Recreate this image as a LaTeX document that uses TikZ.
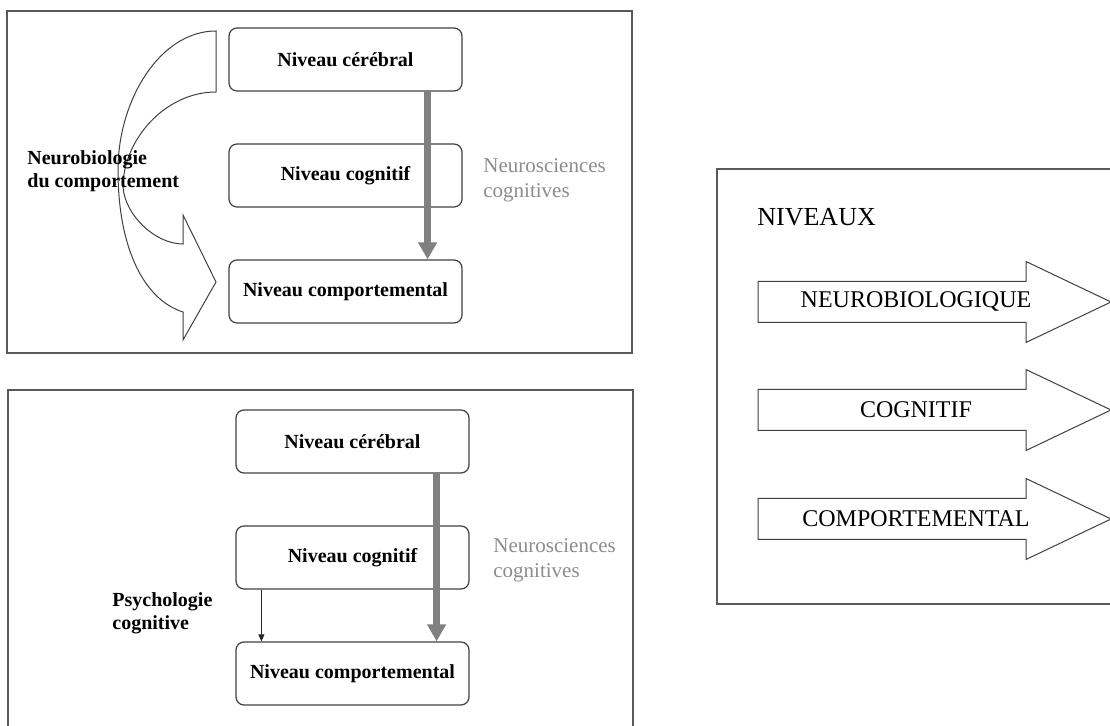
\documentclass[tikz,border=0pt]{standalone}
\usepackage{fontspec}
\setmainfont{Liberation Serif}
\usetikzlibrary{arrows.meta}

\begin{document}
\begin{tikzpicture}[
  x=0.5pt, y=-0.5pt,
  every node/.style={font=\bfseries\fontsize{10}{11.5}\selectfont, align=left},
  level/.style={rectangle, draw=black!75, line width=0.6pt, rounded corners=4pt, minimum width=116.5pt, minimum height=31.5pt, inner sep=0pt, align=center},
  frame/.style={draw=black!65, line width=0.8pt},
  field/.style={anchor=west, inner sep=0pt},
  neuro/.style={anchor=west, inner sep=0pt, text=black!45, font=\fontsize{10.5}{12.5}\selectfont},
  caps/.style={inner sep=0pt, font=\fontsize{12}{14}\selectfont},
  bigarrow/.style={draw=black!50, line width=3.5pt, -{Triangle[width=9pt,length=8.5pt]}},
  thinarrow/.style={draw=black!85, line width=0.5pt, -{Triangle[width=3pt,length=3.5pt]}}
  ]

\useasboundingbox (0,0) rectangle (1110,726);
\clip (0,0) rectangle (1110,726);

% Frames
\draw[frame] (7,11) rectangle (632,353);
\draw[frame] (8,390) rectangle (633,740);
\draw[frame] (717,169) rectangle (1130,604);

% Curved arrow (upper panel)
\draw[black!75, line width=0.5pt, fill=white]
  (216,31) -- (216,92)
  .. controls (165,92) and (123,140) .. (123,187)
  .. controls (125,215) and (155,244) .. (183,244)
  -- (183,215) -- (216,282) -- (183,340) -- (183,312)
  .. controls (145,300) and (118,250) .. (118,170)
  .. controls (118,100) and (160,31) .. (216,31) -- cycle;

% Nodes (upper panel)
\node[level] (cer1) at (345.5,59.5) {Niveau cérébral};
\node[level] (cog1) at (345.5,175.5) {Niveau cognitif};
\node[level] (comp1) at (345.5,291.5) {Niveau comportemental};
\node[field] (neurobio) at (27,171) {Neurobiologie\\du comportement};
\node[neuro] (neurosc1) at (483,180) {Neurosciences\\cognitives};

% Nodes (lower panel)
\node[level] (cer2) at (352.5,441.5) {Niveau cérébral};
\node[level] (cog2) at (352.5,557.5) {Niveau cognitif};
\node[level] (comp2) at (352.5,673.5) {Niveau comportemental};
\node[field] (psycho) at (112,613) {Psychologie\\cognitive};
\node[neuro] (neurosc2) at (493,560) {Neurosciences\\cognitives};

% Arrows
\draw[bigarrow] ([xshift=-17.5pt]cer1.south east) -- ([xshift=-17.5pt]comp1.north east);
\draw[bigarrow] ([xshift=-16.5pt]cer2.south east) -- ([xshift=-16.5pt]comp2.north east);
\draw[thinarrow] ([xshift=13pt]cog2.south west) -- ([xshift=13pt]comp2.north west);

% Right panel
\node[caps, anchor=west, font=\fontsize{13}{15}\selectfont] (niveaux) at (757,217) {NIVEAUX};
\foreach \y/\txt/\nm in {302/NEUROBIOLOGIQUE/neurobiol, 410/COGNITIF/cognitif, 519/COMPORTEMENTAL/comportem} {
  \draw[black!75, line width=0.5pt, fill=white]
    (758,\y-20.5) -- (1026,\y-20.5) -- (1026,\y-40.5) -- (1111,\y)
    -- (1026,\y+40.5) -- (1026,\y+20.5) -- (758,\y+20.5) -- cycle;
  \node[caps] (\nm) at (916,\y) {\txt};
}

\end{tikzpicture}
\end{document}
